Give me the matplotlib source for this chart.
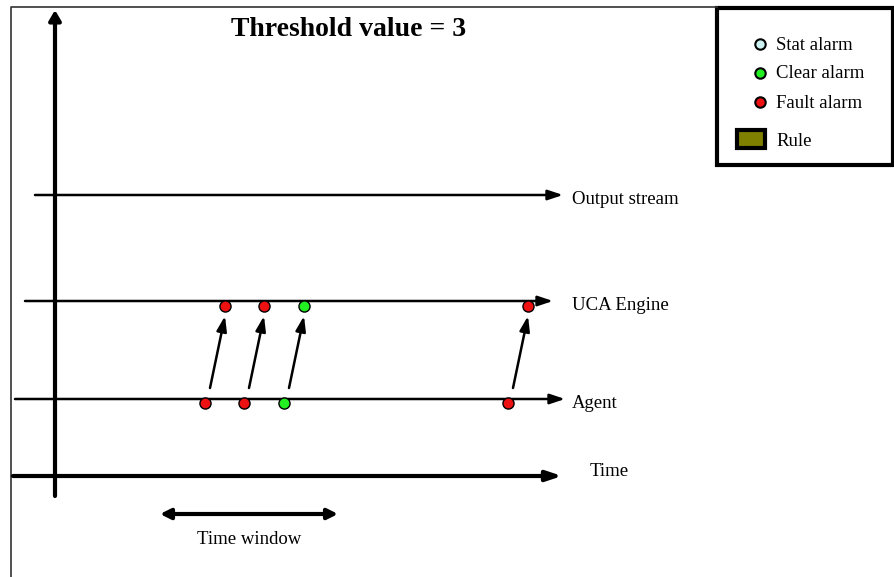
import matplotlib
matplotlib.use("Agg")
import matplotlib.pyplot as plt
from matplotlib.patches import Rectangle

plt.rcParams['font.family'] = ['Liberation Serif', 'DejaVu Serif']

# alarm times on the agent stream (pixel-ish time units) and their kinds
agent_times = [205, 244, 284, 508]
alarm_kinds = ["fault", "fault", "clear", "fault"]
# delay before the alarm reaches the UCA engine
engine_delay = 19

stream_names = ["Output stream", "UCA Engine", "Agent", "Time"]
stream_levels = [195, 301, 399, 476]
stream_starts = [35, 25, 15, 13]
stream_ends = [563, 553, 565, 562]

window_start, window_end = 160, 338

legend_labels = ["Stat alarm", "Clear alarm", "Fault alarm"]
kind_colors = {"stat": "#ccf2f2", "clear": "#22ee22", "fault": "#ee1111"}
legend_kinds = ["stat", "clear", "fault"]

fig = plt.figure(figsize=(8.95, 5.77), dpi=100)
ax = fig.add_axes([0, 0, 1, 1])
ax.set_xlim(0, 895)
ax.set_ylim(577, 0)
ax.axis("off")

# outer frame (left and top)
ax.plot([11, 11, 717], [577, 7, 7], color="#333333", lw=1.2)

# vertical axis
ax.annotate("", xy=(55, 10), xytext=(55, 496),
            arrowprops=dict(arrowstyle="-|>,head_length=0.6,head_width=0.35", lw=3, color="black",
                            shrinkA=0, shrinkB=0))

# horizontal streams
for name, y, x0, x1 in zip(stream_names, stream_levels, stream_starts, stream_ends):
    lw = 3 if name == "Time" else 1.8
    ax.annotate("", xy=(x1, y), xytext=(x0, y),
                arrowprops=dict(arrowstyle="-|>,head_length=0.9,head_width=0.3", lw=lw, color="black",
                                shrinkA=0, shrinkB=0))
    tx = 590 if name == "Time" else 572
    ty = y - 4 if name == "Time" else y + 5
    ax.text(tx, ty, name, fontsize=13.5, va="center", ha="left")

# alarms: agent -> engine
agent_y, engine_y = stream_levels[2], stream_levels[1]
for t, k in zip(agent_times, alarm_kinds):
    c = kind_colors[k]
    ax.plot(t, agent_y + 4, "o", ms=8, mfc=c, mec="black", mew=1, zorder=5)
    ax.plot(t + engine_delay + 1, engine_y + 5, "o", ms=8, mfc=c, mec="black", mew=1, zorder=5)
    ax.annotate("", xy=(t + engine_delay + 1, engine_y + 15), xytext=(t + 5, agent_y - 11),
                arrowprops=dict(arrowstyle="-|>,head_length=0.9,head_width=0.3", lw=1.8, color="black",
                                shrinkA=0, shrinkB=0))

# time window
ax.annotate("", xy=(window_end, 514), xytext=(window_start, 514),
            arrowprops=dict(arrowstyle="<|-|>,head_length=0.6,head_width=0.3", lw=3, color="black",
                            shrinkA=0, shrinkB=0))
ax.text((window_start + window_end) / 2, 540, "Time window", fontsize=13.5, ha="center", va="center")

# title
ax.text(349, 30, "Threshold value = 3", fontsize=20, fontweight="bold", ha="center", va="center")

# legend box
ax.add_patch(Rectangle((717, 8), 176, 157, fill=False, ec="black", lw=3))
for i, (lab, k) in enumerate(zip(legend_labels, legend_kinds)):
    y = 44 + 29 * i
    ax.plot(760, y, "o", ms=7.5, mfc=kind_colors[k], mec="black", mew=1.5)
    ax.text(776, y + 1, lab, fontsize=13.5, va="center", ha="left")
ax.add_patch(Rectangle((737, 130), 28, 18, fc="#808000", ec="black", lw=3))
ax.text(776, 141, "Rule", fontsize=13.5, va="center", ha="left")

fig.savefig("out.png", dpi=100)
